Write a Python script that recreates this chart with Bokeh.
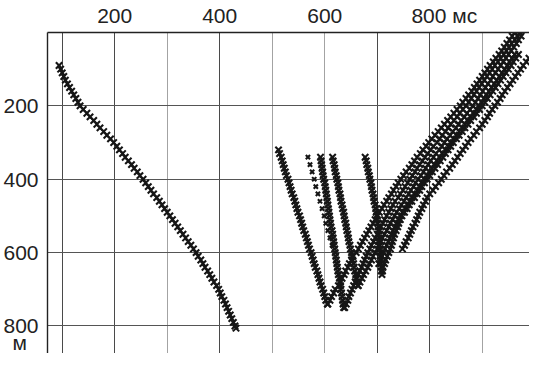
from bokeh.plotting import figure
from bokeh.models import Range1d, FixedTicker, Grid
from bokeh.embed import file_html
from bokeh.resources import INLINE

# ---- data: (depth m, time ms) picks ----
DIRECT = [(90,94),(100,97),(110,100),(120,103),(130,106),(140,110),(150,114),(160,118),(170,122),(180,126),
          (190,130),(200,134),(210,140),(220,147),(230,153),(240,160),(250,166),(260,172),(270,179),(280,185),
          (290,192),(300,198),(310,204),(320,209),(330,215),(340,220),(350,226),(360,232),(370,237),(380,243),
          (390,248),(400,254),(410,259),(420,264),(430,269),(440,274),(450,280),(460,285),(470,290),(480,295),
          (490,300),(500,305),(510,310),(520,315),(530,320),(540,325),(550,330),(560,335),(570,340),(580,345),
          (590,350),(600,355),(610,359),(620,364),(630,368),(640,372),(650,377),(660,381),(670,385),(680,389),
          (690,394),(700,398),(710,401),(720,404),(730,408),(740,411),(750,414),(760,417),(770,420),(780,423),
          (790,426),(800,429),(806,431)]

DOWN_1 = [(320,512),(330,514),(340,517),(350,519),(360,521),(370,523),(380,525),(390,527),(400,530),(410,532),
          (420,534),(430,536),(440,538),(450,541),(460,543),(470,545),(480,547),(490,549),(500,552),(510,554),
          (520,556),(530,558),(540,560),(550,563),(560,565),(570,567),(580,569),(590,571),(600,574),(610,576),
          (620,578),(630,580),(640,582),(650,585),(660,587),(670,589),(680,591),(690,593),(700,596),(710,598),
          (720,600),(730,602),(740,605)]

DOWN_2 = [(340,568),(360,572),(380,576),(400,580),(420,583),(440,587),(460,591),(480,595),(500,599),(520,602),
          (540,606),(560,610),(580,614)]

DOWN_3 = [(340,592),(350,593),(360,594),(370,595),(380,596),(390,597),(400,598),(410,600),(420,601),(430,602),
          (440,603),(450,604),(460,605),(470,606),(480,607),(490,608),(500,609),(510,610),(520,611),(530,612),
          (540,614),(550,615),(560,616),(570,617),(580,618),(590,619),(600,620),(610,621),(620,622),(630,623),
          (640,624),(650,625),(660,626),(670,628),(680,629),(690,630),(700,631),(710,632),(720,633),(730,634),
          (740,635),(750,636)]

DOWN_4 = [(340,615),(350,616),(360,618),(370,619),(380,620),(390,622),(400,623),(410,625),(420,626),(430,627),
          (440,629),(450,630),(460,631),(470,633),(480,634),(490,636),(500,637),(510,638),(520,640),(530,641),
          (540,642),(550,644),(560,645),(570,646),(580,648),(590,649),(600,651),(610,652),(620,653),(630,655),
          (640,656),(650,657),(660,659),(670,660),(680,661),(690,663)]

DOWN_5 = [(340,677),(350,679),(360,680),(370,682),(380,683),(390,685),(400,686),(410,688),(420,689),(430,690),
          (440,692),(450,693),(460,694),(470,696),(480,697),(490,698),(500,699),(510,700),(520,701),(530,702),
          (540,702),(550,703),(560,704),(570,704),(580,705),(590,705),(600,706),(610,706),(620,707),(630,707),
          (640,708),(650,708),(660,709)]

UP_1 = [(740,606),(730,610),(720,613),(710,617),(700,620),(690,626),(680,630),(670,633),(660,637),(650,640),
        (640,644),(630,647),(620,651),(610,654),(600,660),(590,664),(580,668),(570,672),(560,676),(550,680),
        (540,684),(530,688),(520,692),(510,696),(500,700),(490,704),(480,709),(470,713),(460,718),(450,722),
        (440,727),(430,731),(420,736),(410,740),(400,745),(390,750),(380,755),(370,761),(360,766),(350,771),
        (340,776),(330,782),(320,787),(310,793),(300,798),(290,804),(280,810),(270,816),(260,822),(250,828),
        (240,834),(230,840),(220,846),(210,852),(200,858),(190,863),(180,869),(170,874),(160,880),(150,885),
        (140,890),(130,895),(120,900),(110,905),(100,910),(90,915),(80,921),(70,926),(60,932),(50,937),
        (40,942),(30,947),(20,952),(10,957),(0,962)]

UP_2 = [(750,638),(740,641),(730,644),(720,646),(710,649),(700,652),(690,655),(680,658),(670,661),(660,664),
        (650,667),(640,670),(630,673),(620,676),(610,679),(600,682),(590,686),(580,689),(570,693),(560,696),
        (550,700),(540,704),(530,707),(520,711),(510,714),(500,718),(490,722),(480,726),(470,730),(460,734),
        (450,740),(440,744),(430,749),(420,753),(410,758),(400,762),(390,767),(380,772),(370,776),(360,781),
        (350,786),(340,791),(330,796),(320,802),(310,807),(300,814),(290,819),(280,824),(270,830),(260,835),
        (250,840),(240,846),(230,852),(220,857),(210,863),(200,869),(190,874),(180,879),(170,884),(160,889),
        (150,894),(140,899),(130,904),(120,909),(110,914),(100,919),(90,924),(80,930),(70,935),(60,941),
        (50,946),(40,951),(30,956),(20,962),(10,967),(0,972)]

UP_3 = [(690,664),(680,667),(670,671),(660,674),(650,678),(640,682),(630,685),(620,689),(610,692),(600,696),
        (590,700),(580,703),(570,707),(560,710),(550,714),(540,718),(530,722),(520,725),(510,729),(500,733),
        (490,737),(480,742),(470,746),(460,751),(450,755),(440,760),(430,764),(420,769),(410,773),(400,778),
        (390,783),(380,788),(370,792),(360,797),(350,802),(340,807),(330,812),(320,818),(310,823),(300,828),
        (290,833),(280,839),(270,844),(260,850),(250,855),(240,860),(230,866),(220,871),(210,877),(200,882),
        (190,887),(180,892),(170,896),(160,901),(150,906),(140,911),(130,916),(120,920),(110,925),(100,930),
        (90,935),(80,940),(70,945),(60,950),(50,955),(40,960),(30,965),(20,969),(10,974)]

UP_4 = [(630,703),(620,706),(610,709),(600,712),(590,715),(580,718),(570,721),(560,724),(550,727),(540,730),
        (530,734),(520,737),(510,741),(500,744),(490,748),(480,753),(470,757),(460,762),(450,766),(440,771),
        (430,776),(420,781),(410,785),(400,790),(390,795),(380,800),(370,804),(360,809),(350,814),(340,819),
        (330,824),(320,830),(310,835),(300,840),(290,845),(280,851),(270,856),(260,862),(250,867),(240,872),
        (230,878),(220,883),(210,889),(200,894),(190,899),(180,904),(170,908),(160,913),(150,918),(140,923),
        (130,928),(120,933),(110,938),(100,943),(90,948),(80,952),(70,957),(60,962)]

UP_5 = [(650,710),(640,711),(630,714),(620,716),(610,719),(600,722),(590,725),(580,727),(570,729),(560,731),
        (550,733),(540,736),(530,739),(520,741),(510,744),(500,747),(490,752),(480,757),(470,761),(460,766),
        (450,771),(440,776),(430,781),(420,785),(410,790),(400,795),(390,800),(380,805),(370,810),(360,815),
        (350,820),(340,825),(330,830),(320,835),(310,840),(300,845),(290,851),(280,856),(270,862),(260,867),
        (250,873),(240,878),(230,884),(220,889),(210,895),(200,900),(190,905),(180,910),(170,915),(160,920),
        (150,925),(140,930),(130,935),(120,940),(110,945),(100,950),(90,955),(80,959),(70,964),(60,969)]

UP_6 = [(590,748),(580,752),(570,755),(560,759),(550,762),(540,765),(530,768),(520,772),(510,775),(500,778),
        (490,781),(480,785),(470,788),(460,792),(450,795),(440,800),(430,806),(420,811),(410,817),(400,822),
        (390,827),(380,832),(370,838),(360,843),(350,848),(340,853),(330,858),(320,863),(310,868),(300,873),
        (290,878),(280,884),(270,889),(260,895),(250,900),(240,905),(230,910),(220,914),(210,919),(200,924),
        (190,929),(180,934),(170,938),(160,943),(150,948),(140,953),(130,958),(120,963),(110,968),(100,973),
        (90,978),(80,984),(70,989)]

X_TICKS = [200, 400, 600, 800]
Y_TICKS = [200, 400, 600, 800]
X_GRID_DARK = [100, 200, 400, 700, 800]
X_GRID_LIGHT = [300, 500, 600, 900]
Y_GRID = [200, 400, 600, 800]
X_UNIT = "мс"
Y_UNIT = "м"

FONT = "Liberation Sans"
INK = "#161616"
Y_UNIT_AT = 845   # where the unit sits under the last depth label

p = figure(width=529, height=353, output_backend="svg", toolbar_location=None,
           x_range=Range1d(72, 990), y_range=Range1d(875, 0),
           x_axis_location="above",
           min_border_left=47, min_border_top=28, min_border_right=0, min_border_bottom=0)
p.outline_line_color = None
p.background_fill_color = "white"
p.border_fill_color = "white"
p.grid.visible = False

for ticks, col in ((X_GRID_DARK, "#4a4a4a"), (X_GRID_LIGHT, "#a3a3a3")):
    p.add_layout(Grid(dimension=0, ticker=FixedTicker(ticks=ticks), grid_line_color=col, grid_line_width=1))
p.add_layout(Grid(dimension=1, ticker=FixedTicker(ticks=Y_GRID), grid_line_color="#555555", grid_line_width=1))

pad = "\u00a0" * 5
for ax, ticks in ((p.xaxis[0], X_TICKS), (p.yaxis[0], Y_TICKS + [Y_UNIT_AT])):
    ax.ticker = FixedTicker(ticks=ticks)
    ax.major_tick_line_color = None
    ax.minor_tick_line_color = None
    ax.axis_line_color = "#222222"
    ax.axis_line_width = 1.4
    ax.major_label_text_font = FONT
    ax.major_label_text_font_size = "21px"
    ax.major_label_text_color = "#222222"
p.xaxis[0].major_label_standoff = 0
p.yaxis[0].major_label_standoff = 3
p.xaxis[0].major_label_overrides = {800: pad + "800 " + X_UNIT}
p.yaxis[0].major_label_overrides = {Y_UNIT_AT: Y_UNIT + "\u00a0\u00a0"}

def draw(wave, size=9):
    depth = [d for d, t in wave]
    time = [t for d, t in wave]
    p.scatter(x=time, y=depth, marker="x", size=size, line_color=INK, line_width=2.1)

for w in (DIRECT, DOWN_1, DOWN_3, DOWN_4, DOWN_5, UP_1, UP_2, UP_3, UP_4, UP_5, UP_6):
    draw(w)
draw(DOWN_2, size=6)

open("out.html", "w").write(file_html(p, INLINE))
